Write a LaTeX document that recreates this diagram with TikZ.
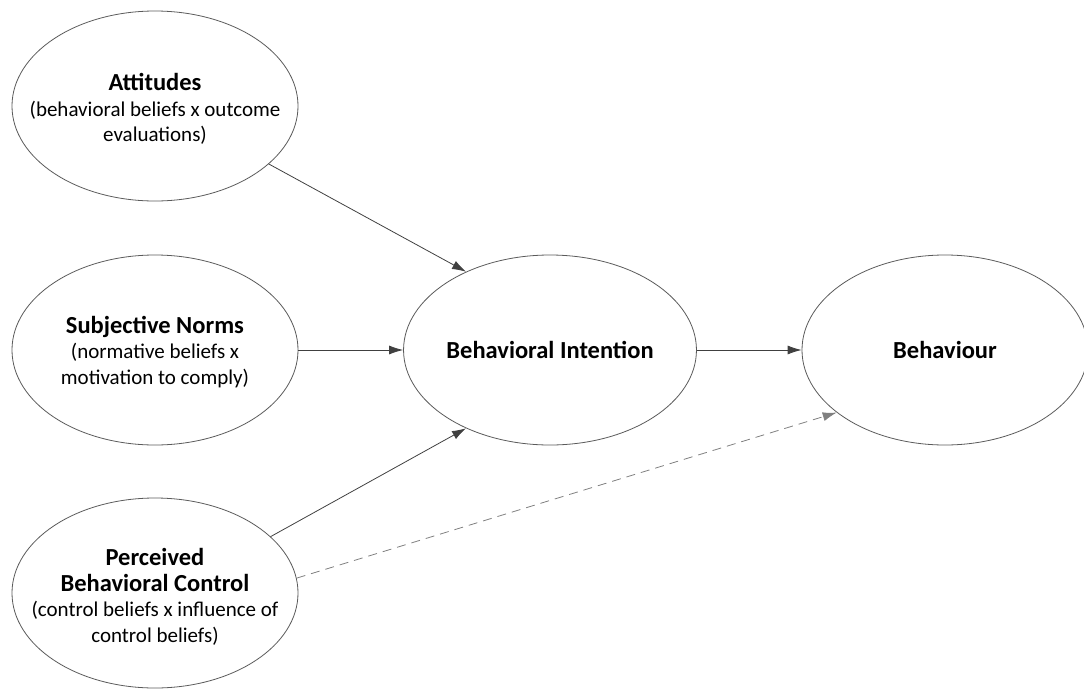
\documentclass[tikz,border=0pt]{standalone}
\usepackage{fontspec}
\setmainfont{Carlito}
\usepackage{tikz}
\usetikzlibrary{shapes.geometric,arrows.meta}
\definecolor{rimgray}{HTML}{5A5A5A}
\definecolor{linkgray}{HTML}{404040}
\newcommand{\headtext}[1]{{\bfseries\fontsize{24.5}{28}\selectfont #1}}

\begin{document}
\begin{tikzpicture}[x=1pt, y=-1pt,
  every node/.style={font=\fontsize{21}{25.5}\selectfont, align=center},
  construct/.style={ellipse, draw=rimgray, line width=0.8pt, minimum width=286pt, minimum height=190pt, inner sep=0pt},
  heading/.style={font=\fontsize{24.5}{28}\selectfont\bfseries},
  link/.style={draw=linkgray, line width=0.8pt, -{Latex[length=14pt,width=9pt]}},
  weaklink/.style={link, draw=gray, dash pattern=on 9pt off 6pt}]
  \useasboundingbox (0,0) rectangle (1084,688);
  % predictors
  \node[construct] (att) at (155,106) {};
  \node (atttext) at (155,109) {\headtext{Attitudes}\\(behavioral beliefs x outcome\\evaluations)};
  \node[construct] (sn) at (155,350) {};
  \node (sntext) at (155,352) {\headtext{Subjective Norms}\\(normative beliefs x\\motivation to comply)};
  \node[construct] (pbc) at (155,593) {};
  \node (pbctext) at (155,597) {\headtext{Perceived}\\\headtext{Behavioral Control}\\(control beliefs x influence of\\control beliefs)};
  % outcomes
  \node[construct, heading] (bi) at (550,350) {Behavioral Intention};
  \node[construct, heading] (beh) at (945,350) {Behaviour};
  % paths
  \draw[link] (att.-27) -- (bi.137);
  \draw[link] (sn.east) -- (bi.west);
  \draw[link] (pbc.26) -- (bi.-137);
  \draw[link] (bi.east) -- (beh.west);
  \draw[weaklink] (pbc.6) -- (beh.210);
\end{tikzpicture}
\end{document}
